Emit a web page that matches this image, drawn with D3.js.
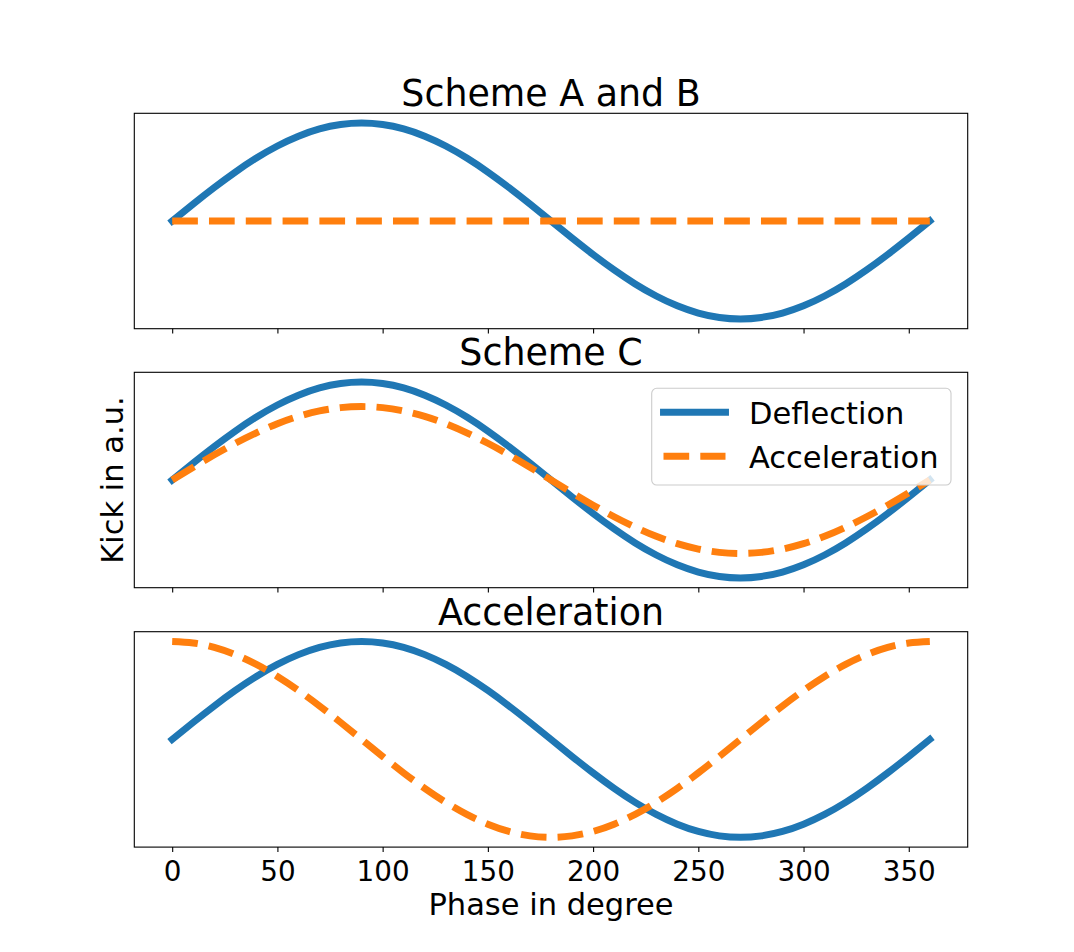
<!DOCTYPE html>
<html>
<head>
<meta charset="utf-8">
<script src="https://cdn.jsdelivr.net/npm/d3@7/dist/d3.min.js"></script>
<style>
  html, body { margin: 0; padding: 0; background: #fff; }
  svg { display: block; font-family: "DejaVu Sans", sans-serif; }
</style>
</head>
<body>
<svg id="chart" width="1074" height="952"></svg>
<script>
// ---- data ----
const phase = [0,10,20,30,40,50,60,70,80,90,100,110,120,130,140,150,160,170,180,
               190,200,210,220,230,240,250,260,270,280,290,300,310,320,330,340,350,360];

const deflection = [0,0.174,0.342,0.5,0.643,0.766,0.866,0.94,0.985,1,0.985,0.94,0.866,0.766,0.643,0.5,0.342,0.174,0,
                    -0.174,-0.342,-0.5,-0.643,-0.766,-0.866,-0.94,-0.985,-1,-0.985,-0.94,-0.866,-0.766,-0.643,-0.5,-0.342,-0.174,0];

const accelSchemeAB = [0,0,0,0,0,0,0,0,0,0,0,0,0,0,0,0,0,0,0,
                       0,0,0,0,0,0,0,0,0,0,0,0,0,0,0,0,0,0];

const accelSchemeC = [0,0.13,0.257,0.375,0.482,0.575,0.65,0.705,0.739,0.75,0.739,0.705,0.65,0.575,0.482,0.375,0.257,0.13,0,
                      -0.13,-0.257,-0.375,-0.482,-0.575,-0.65,-0.705,-0.739,-0.75,-0.739,-0.705,-0.65,-0.575,-0.482,-0.375,-0.257,-0.13,0];

const accelAcceleration = [1,0.985,0.94,0.866,0.766,0.643,0.5,0.342,0.174,0,-0.174,-0.342,-0.5,-0.643,-0.766,-0.866,-0.94,-0.985,-1,
                           -0.985,-0.94,-0.866,-0.766,-0.643,-0.5,-0.342,-0.174,0,0.174,0.342,0.5,0.643,0.766,0.866,0.94,0.985,1];

const panelTitles = ["Scheme A and B", "Scheme C", "Acceleration"];
const accelSeries = [accelSchemeAB, accelSchemeC, accelAcceleration];
const xTicks = [0,50,100,150,200,250,300,350];
const legendLabels = ["Deflection", "Acceleration"];
const xLabel = "Phase in degree";
const yLabel = "Kick in a.u.";

// ---- layout ----
const blue = "#1f77b4", orange = "#ff7f0e";
const left = 134.3, right = 967.7, panelH = 215.4;
const tops = [113.3, 372.3, 631.7];
const lw = 6.94;

const svg = d3.select("#chart");
const x = d3.scaleLinear().domain([-18, 378]).range([left, right]);

tops.forEach((top, i) => {
  const y = d3.scaleLinear().domain([-1.1, 1.1]).range([top + panelH, top]);
  const g = svg.append("g");

  const line = d3.line()
    .x((d, k) => x(phase[k]))
    .y(d => y(d))
    .curve(d3.curveNatural);

  // deflection (solid)
  g.append("path")
    .attr("d", line(deflection))
    .attr("fill", "none")
    .attr("stroke", blue)
    .attr("stroke-width", lw)
    .attr("stroke-linecap", "square")
    .attr("stroke-linejoin", "round");

  // acceleration (dashed)
  g.append("path")
    .attr("d", line(accelSeries[i]))
    .attr("fill", "none")
    .attr("stroke", orange)
    .attr("stroke-width", lw)
    .attr("stroke-dasharray", "25.7,11.1")
    .attr("stroke-linecap", "butt")
    .attr("stroke-linejoin", "round");

  // frame
  g.append("rect")
    .attr("x", left).attr("y", top)
    .attr("width", right - left).attr("height", panelH)
    .attr("fill", "none").attr("stroke", "#000").attr("stroke-width", 1.1);

  // x axis ticks
  const axis = d3.axisBottom(x).tickValues(xTicks).tickSize(4.9).tickPadding(4.9);
  const ax = g.append("g")
    .attr("transform", `translate(0,${top + panelH})`)
    .call(axis);
  ax.select(".domain").remove();
  ax.selectAll(".tick line").attr("stroke", "#000").attr("stroke-width", 1.1);
  if (i < 2) {
    ax.selectAll(".tick text").remove();
  } else {
    ax.selectAll(".tick text")
      .attr("font-size", 27.8)
      .attr("font-family", "DejaVu Sans")
      .attr("fill", "#000")
      .attr("dy", null)
      .attr("y", 881 - (top + panelH))
      .text(d => d);
  }

  // title
  svg.append("text")
    .attr("x", (left + right) / 2)
    .attr("y", top - 7)
    .attr("text-anchor", "middle")
    .attr("font-size", 36.4)
    .attr("fill", "#000")
    .text(panelTitles[i]);

  // legend in middle panel
  if (i === 1) {
    const lg = svg.append("g");
    lg.append("rect")
      .attr("x", 651.7).attr("y", 388.3)
      .attr("width", 299.3).attr("height", 96.7)
      .attr("rx", 5).attr("ry", 5)
      .attr("fill", "#fff").attr("fill-opacity", 0.8)
      .attr("stroke", "#cccccc").attr("stroke-width", 1.1);
    const ly = [412.3, 456.3];
    lg.append("line")
      .attr("x1", 663.5).attr("x2", 725.5)
      .attr("y1", ly[0]).attr("y2", ly[0])
      .attr("stroke", blue).attr("stroke-width", lw)
      .attr("stroke-linecap", "square");
    lg.append("line")
      .attr("x1", 663.5).attr("x2", 725.5)
      .attr("y1", ly[1]).attr("y2", ly[1])
      .attr("stroke", orange).attr("stroke-width", lw)
      .attr("stroke-dasharray", "25.7,11.1")
      .attr("stroke-linecap", "butt");
    legendLabels.forEach((t, k) => {
      lg.append("text")
        .attr("x", 749)
        .attr("y", ly[k] + 12)
        .attr("font-size", 30.5)
        .attr("fill", "#000")
        .text(t);
    });
  }
});

// axis labels
svg.append("text")
  .attr("x", (left + right) / 2)
  .attr("y", 915)
  .attr("text-anchor", "middle")
  .attr("font-size", 30.5)
  .attr("fill", "#000")
  .text(xLabel);

svg.append("text")
  .attr("transform", `translate(123,${tops[1] + panelH / 2}) rotate(-90)`)
  .attr("text-anchor", "middle")
  .attr("font-size", 30.5)
  .attr("fill", "#000")
  .text(yLabel);
</script>
</body>
</html>
